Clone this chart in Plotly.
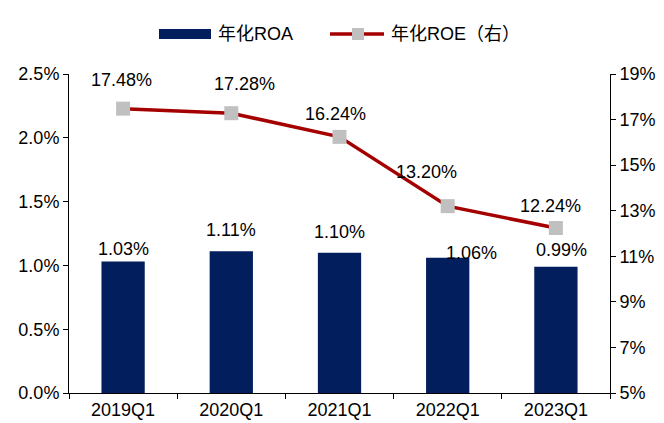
import plotly.graph_objects as go

categories = ["2019Q1", "2020Q1", "2021Q1", "2022Q1", "2023Q1"]
roa = [1.03, 1.11, 1.10, 1.06, 0.99]
roe = [17.48, 17.28, 16.24, 13.20, 12.24]
left_ticks = [0.0, 0.5, 1.0, 1.5, 2.0, 2.5]
right_ticks = [5, 7, 9, 11, 13, 15, 17, 19]

# label offsets (pixels) as placed in the reference
roa_label_dx = [0, 0, 0, 24, 6]
roa_label_dy = [13, 21, 21, 5, 17]
roe_label_dx = [-2, 13, -4, -21, -5]
roe_label_dy = [29, 29, 23, 34, 22]

FONT = "Liberation Sans, Arial, Noto Sans CJK SC, sans-serif"
W, H = 664, 423
ML, MR, MT, MB = 69, 54, 74, 30
PW, PH = W - ML - MR, H - MT - MB

BAR_COLOR = "#021E5C"
LINE_COLOR = "#A50000"
MARK_COLOR = "#C0C0C0"


def px(x):
    return (x - ML) / PW


def py(y):
    return (H - MB - y) / PH


fig = go.Figure()
fig.add_trace(go.Bar(
    x=categories, y=roa, name="年化ROA",
    marker=dict(color=BAR_COLOR, line=dict(width=0)),
    width=0.4, cliponaxis=False, showlegend=False,
))
fig.add_trace(go.Scatter(
    x=categories, y=roe, name="年化ROE（右）", yaxis="y2",
    mode="lines+markers",
    line=dict(color=LINE_COLOR, width=3.5),
    marker=dict(symbol="square", size=14, color=MARK_COLOR),
    cliponaxis=False, showlegend=False,
))

annotations = []
for c, v, dx, dy in zip(categories, roa, roa_label_dx, roa_label_dy):
    annotations.append(dict(
        x=c, y=v, xref="x", yref="y", text=f"{v:.2f}%",
        showarrow=False, xshift=dx, yshift=dy, yanchor="middle",
        font=dict(size=18, color="#000000", family=FONT),
    ))
for c, v, dx, dy in zip(categories, roe, roe_label_dx, roe_label_dy):
    annotations.append(dict(
        x=c, y=v, xref="x", yref="y2", text=f"{v:.2f}%",
        showarrow=False, xshift=dx, yshift=dy, yanchor="middle",
        font=dict(size=18, color="#000000", family=FONT),
    ))

# custom legend (matches the reference's long swatches)
shapes = [
    dict(type="rect", xref="paper", yref="paper",
         x0=px(159), x1=px(211), y0=py(39), y1=py(29),
         fillcolor=BAR_COLOR, line=dict(width=0), layer="above"),
    dict(type="line", xref="paper", yref="paper",
         x0=px(330), x1=px(384), y0=py(34), y1=py(34),
         line=dict(color=LINE_COLOR, width=3.5), layer="above"),
    dict(type="rect", xref="paper", yref="paper",
         x0=px(352), x1=px(364), y0=py(40), y1=py(28),
         fillcolor=MARK_COLOR, line=dict(width=0), layer="above"),
]
annotations.append(dict(x=px(216), y=py(34), xref="paper", yref="paper",
                        text="年化ROA", showarrow=False, xanchor="left", yanchor="middle",
                        font=dict(size=18, color="#000000", family=FONT)))
annotations.append(dict(x=px(389), y=py(34), xref="paper", yref="paper",
                        text="年化ROE（右）", showarrow=False, xanchor="left", yanchor="middle",
                        font=dict(size=18, color="#000000", family=FONT)))

fig.update_layout(
    width=W, height=H,
    margin=dict(l=ML, r=MR, t=MT, b=MB, autoexpand=False),
    paper_bgcolor="white", plot_bgcolor="white",
    font=dict(family=FONT, size=18, color="#000000"),
    showlegend=False,
    shapes=shapes,
    annotations=annotations,
    xaxis=dict(
        type="category", showline=True, linecolor="#000000", linewidth=1,
        ticks="outside", tickson="boundaries", ticklen=5, tickcolor="#000000",
        showgrid=False, tickfont=dict(size=18), automargin=False,
    ),
    yaxis=dict(
        range=[0, 2.5], tickvals=left_ticks,
        ticktext=[f"{v:.1f}%" for v in left_ticks],
        showline=True, linecolor="#000000", linewidth=1,
        ticks="outside", ticklen=5, tickcolor="#000000",
        showgrid=False, zeroline=False, tickfont=dict(size=18), automargin=False,
    ),
    yaxis2=dict(
        range=[5, 19], tickvals=right_ticks,
        ticktext=[f"{v}%" for v in right_ticks],
        overlaying="y", side="right",
        showline=True, linecolor="#000000", linewidth=1,
        ticks="outside", ticklen=5, tickcolor="#000000",
        showgrid=False, zeroline=False, tickfont=dict(size=18), automargin=False,
    ),
)

fig.write_html(
    "out.html",
    config={"displayModeBar": False},
    post_script="document.body.style.margin='0';document.body.style.padding='0';",
)
